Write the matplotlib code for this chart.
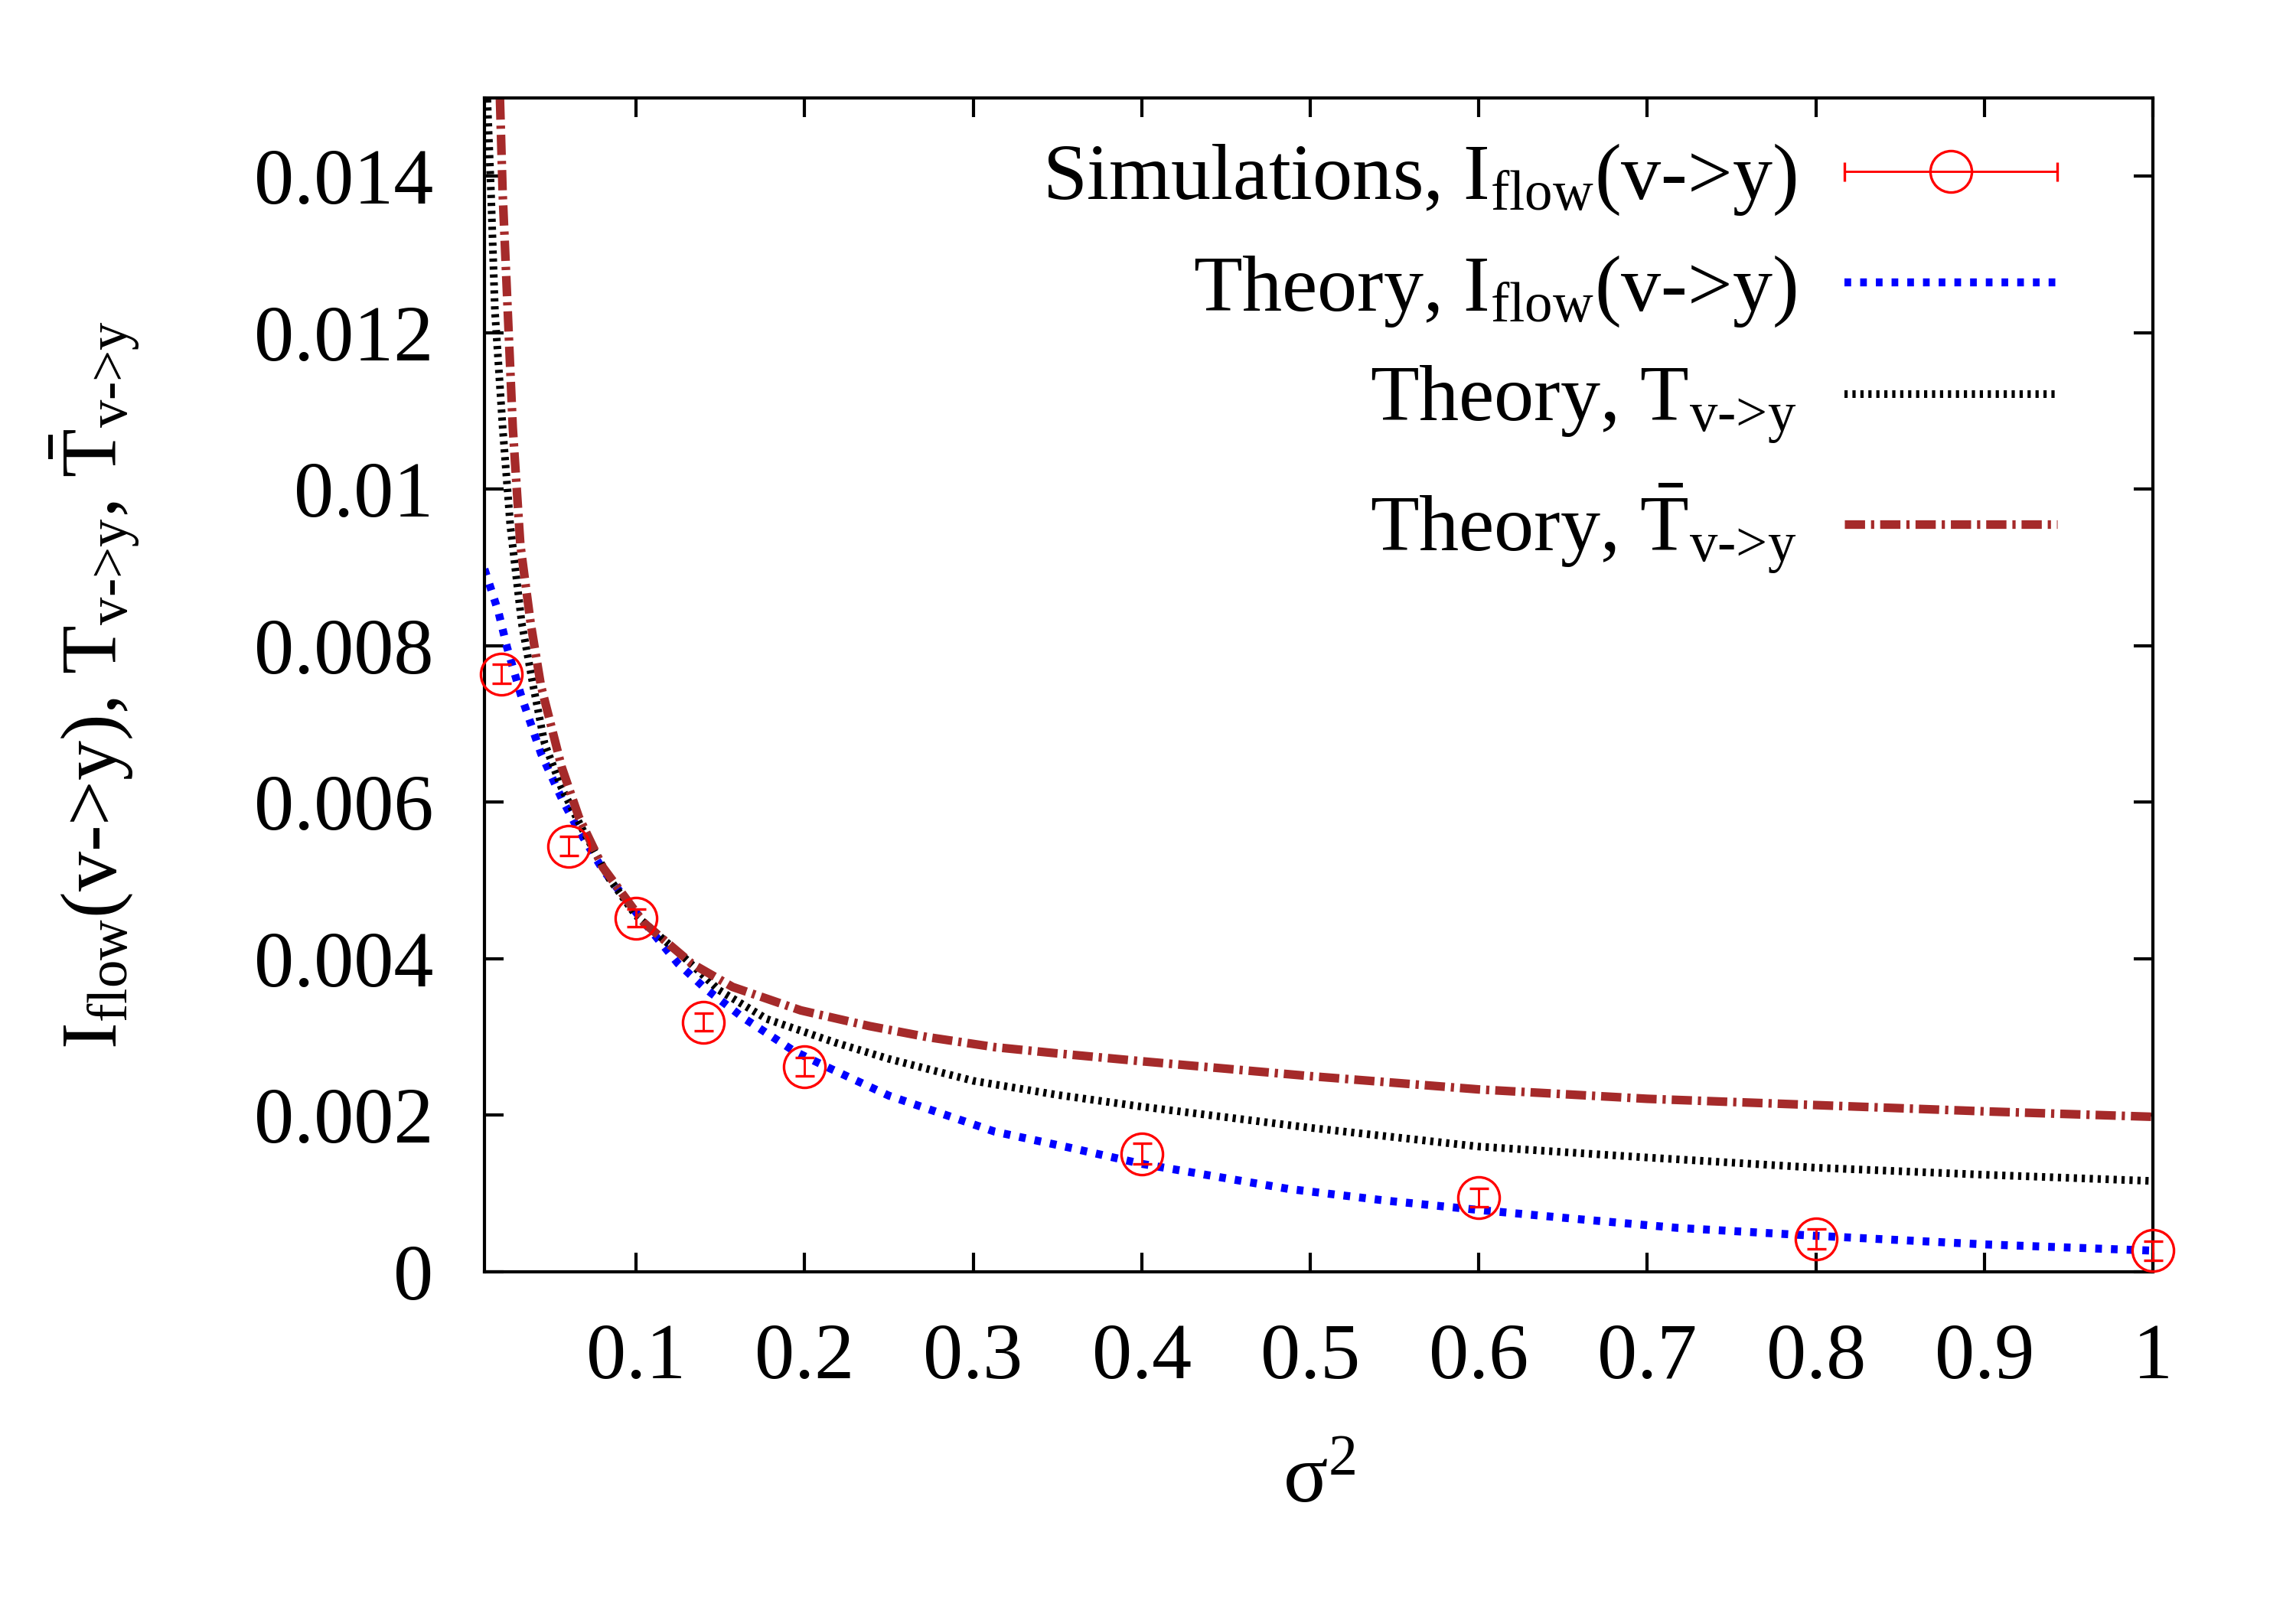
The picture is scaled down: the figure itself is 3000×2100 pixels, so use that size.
import numpy as np
import matplotlib
matplotlib.use("Agg")
import matplotlib.pyplot as plt
from matplotlib.legend_handler import HandlerErrorbar

plt.rcParams['font.family'] = ['Liberation Serif', 'DejaVu Serif']
plt.rcParams['mathtext.fontset'] = 'custom'
plt.rcParams['mathtext.rm'] = 'Liberation Serif'
plt.rcParams['mathtext.it'] = 'Liberation Serif:italic'
plt.rcParams['mathtext.bf'] = 'Liberation Serif:bold'

# simulation points
sim_x = [0.02, 0.06, 0.1, 0.14, 0.2, 0.4, 0.6, 0.8, 1.0]
sim_y = [0.00764, 0.00544, 0.00452, 0.00319, 0.00262, 0.00151, 0.00095, 0.00042, 0.00027]
sim_err = [0.00012, 0.00012, 0.00011, 0.00011, 0.00012, 0.00013, 0.00012, 0.00013, 0.00012]

# theory, I_flow(v->y)
iflow_x = [0.01, 0.0183, 0.0234, 0.0315, 0.0436, 0.0558, 0.0649, 0.0802, 0.1004,
           0.1248, 0.141, 0.1633, 0.1937, 0.2119, 0.25, 0.3129, 0.3564, 0.3998,
           0.4867, 0.5446, 0.6, 0.6605, 0.7184, 0.7997, 0.9, 1.0]
iflow_y = [0.00898, 0.00843, 0.00798, 0.00738, 0.00662, 0.00605, 0.00568, 0.00514, 0.00458,
           0.00394, 0.00362, 0.00325, 0.00282, 0.00263, 0.00225, 0.00179, 0.00159, 0.00138,
           0.00106, 0.00091, 0.00079, 0.00067, 0.00056, 0.00046, 0.00035, 0.00027]

# theory, T_{v->y}
t_x = [0.0117, 0.0139, 0.0162, 0.0208, 0.0253, 0.0321, 0.0389, 0.0457, 0.0558, 0.068,
       0.0842, 0.1, 0.1288, 0.1491, 0.1775, 0.218, 0.25, 0.3, 0.35, 0.4, 0.5,
       0.6, 0.7, 0.8, 0.9, 1.0]
t_y = [0.01498, 0.01378, 0.01228, 0.01079, 0.00954, 0.00829, 0.00749, 0.00675, 0.00618, 0.00566,
       0.00502, 0.00455, 0.00401, 0.0036, 0.00323, 0.00293, 0.00272, 0.00244, 0.00226, 0.00211,
       0.00184, 0.0016, 0.00146, 0.00133, 0.00124, 0.00116]

# theory, T-bar_{v->y}
tb_x = [0.0192, 0.0208, 0.0238, 0.0268, 0.0313, 0.0374, 0.0435, 0.0558, 0.066, 0.0802,
        0.1045, 0.1329, 0.1572, 0.1977, 0.2383, 0.2725, 0.3129, 0.35, 0.4, 0.5, 0.6, 0.7,
        0.8, 0.9, 1.0]
tb_y = [0.01498, 0.01378, 0.01228, 0.01079, 0.00929, 0.00829, 0.00749, 0.00645, 0.00581, 0.00517,
        0.00446, 0.00394, 0.00364, 0.00334, 0.00314, 0.003, 0.00287, 0.00279, 0.00269, 0.0025,
        0.00233, 0.00221, 0.00213, 0.00205, 0.00198]

x_ticks = [0.1, 0.2, 0.3, 0.4, 0.5, 0.6, 0.7, 0.8, 0.9, 1.0]
x_labels = ['0.1', '0.2', '0.3', '0.4', '0.5', '0.6', '0.7', '0.8', '0.9', '1']
y_ticks = [0, 0.002, 0.004, 0.006, 0.008, 0.010, 0.012, 0.014]
y_labels = ['0', '0.002', '0.004', '0.006', '0.008', '0.01', '0.012', '0.014']

labels = [r'Simulations, I$_{\rm flow}$(v->y)',
          r'Theory, I$_{\rm flow}$(v->y)',
          r'Theory, T$_{\text{v->y}}$',
          r'Theory, $\bar{\rm T}_{\text{v->y}}$']

fig = plt.figure(figsize=(10, 7), dpi=300)
ax = fig.add_axes([0.211, 0.2086, 0.7267, 0.7305])

eb = ax.errorbar(sim_x, sim_y, yerr=sim_err, fmt='o', color='red', ms=13,
                 mfc='none', mec='red', mew=0.8, elinewidth=0.7, capsize=3,
                 capthick=0.7, zorder=3)
for art in eb.lines[0:1] + tuple(eb.lines[1]) + tuple(eb.lines[2]):
    art.set_clip_on(False)

# key entry for the simulations, drawn gnuplot style (horizontal bar)
sim_key = ax.errorbar([np.nan], [np.nan], xerr=[0], fmt='o', color='red', ms=13,
                      mfc='none', mec='red', mew=0.8, elinewidth=0.7, capsize=3,
                      capthick=0.7)

l1, = ax.plot(iflow_x, iflow_y, color='blue', lw=2.5, dashes=(0.84, 1.13),
              dash_capstyle='butt', zorder=2)
l2, = ax.plot(t_x, t_y, color='black', lw=2.4, dashes=(0.42, 0.62),
              dash_capstyle='butt', zorder=2)
l3, = ax.plot(tb_x, tb_y, color='#a52a2a', lw=2.7, dashes=(2.35, 0.69, 0.375, 0.69),
              dash_capstyle='butt', zorder=2)

ax.set_xlim(0.01, 1)
ax.set_ylim(0, 0.015)
ax.set_xticks(x_ticks)
ax.set_xticklabels(x_labels)
ax.set_yticks(y_ticks)
ax.set_yticklabels(y_labels)
ax.tick_params(direction='in', length=6, width=1, top=True, right=True,
               labelsize=25, pad=16)
for sp in ax.spines.values():
    sp.set_linewidth(1.0)

ax.set_xlabel('σ$^{\\rm 2}$', fontsize=26)
ax.xaxis.set_label_coords(0.5, -0.147)
ax.set_ylabel(r'I$_{\rm flow}$(v->y), T$_{\text{v->y}}$, $\bar{\rm T}_{\text{v->y}}$',
              fontsize=25)
ax.yaxis.set_label_coords(-0.205, 0.5)

ax.legend([sim_key, l1, l2, l3], labels, loc='upper right',
          bbox_to_anchor=(0.9427, 0.962), frameon=False, markerfirst=False,
          fontsize=25, handlelength=2.67, handletextpad=0.6, labelspacing=0.45,
          borderpad=0, borderaxespad=0, numpoints=1,
          handler_map={sim_key: HandlerErrorbar(xerr_size=1.335)})

fig.savefig('out.png', dpi=300)
